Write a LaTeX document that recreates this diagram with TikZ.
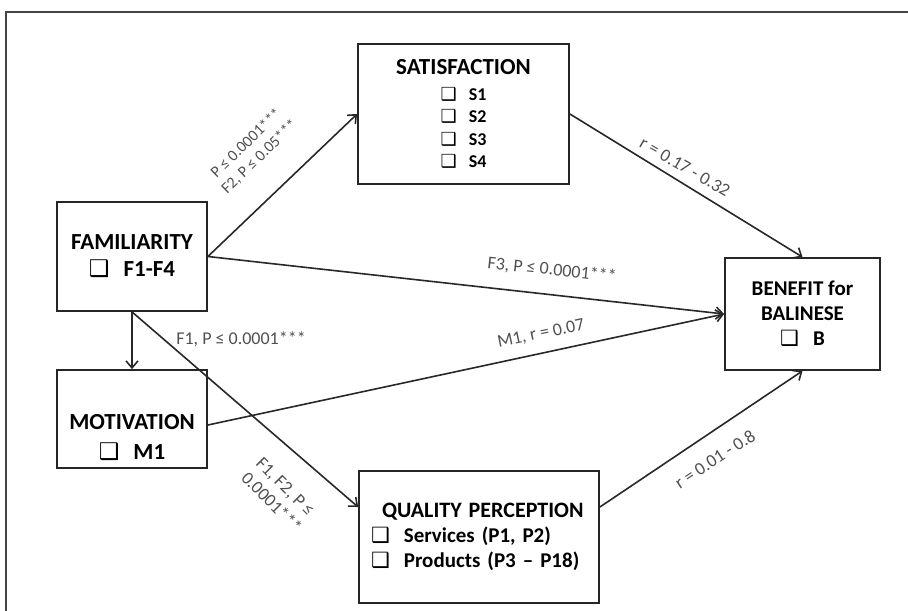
\documentclass[tikz,border=0pt]{standalone}
\usepackage{fontspec}
\setmainfont{Carlito}
\newfontfamily\dingfont{DejaVu Sans}
\definecolor{FrameGray}{RGB}{68,68,68}
\definecolor{LinkGray}{RGB}{40,40,40}
\definecolor{NoteGray}{RGB}{80,80,80}
\usetikzlibrary{
    arrows.meta,
    positioning,
}
\newcommand{\qbox}{{\dingfont\char"2751}}

\begin{document}
\begin{tikzpicture}[
    x=0.5pt, y=-0.5pt,
    box/.style={draw=black!85, line width=0.9pt, fill=white, align=center, inner sep=0pt},
    note/.style={text=NoteGray, inner sep=0pt, font=\fontsize{9}{10.5}\selectfont},
    link/.style={draw=LinkGray, line width=0.8pt, -{Straight Barb[length=3.5pt,width=6pt]}}
]
    \useasboundingbox (0,0) rectangle (908,610);
    \draw[FrameGray, line width=1.2pt] (6,640) -- (6,12) -- (940,12);

    \node[box, minimum width=105.5pt, minimum height=70pt, font=\bfseries\fontsize{9}{11.2}\selectfont] (sat) at (463.5,114)
        {{\fontsize{11.5}{13}\selectfont SATISFACTION}\\[1.5pt]
         \qbox\hspace{6pt}S1\\\qbox\hspace{6pt}S2\\\qbox\hspace{6pt}S3\\\qbox\hspace{6pt}S4};
    \node[box, minimum width=75pt, minimum height=54.5pt, font=\bfseries\fontsize{11.5}{13.5}\selectfont] (fam) at (132,256.5)
        {FAMILIARITY\\\qbox\hspace{7pt}F1-F4};
    \node[box, minimum width=75pt, minimum height=49pt, font=\bfseries\fontsize{11.5}{15}\selectfont] (mot) at (132,419)
        {\rule{0pt}{26pt}MOTIVATION\\\qbox\hspace{7pt}M1};
    \node[box, minimum width=120pt, minimum height=66pt, text width=108pt, align=left, font=\bfseries\fontsize{10.5}{12.5}\selectfont] (qual) at (479,537)
        {\hspace*{5.5pt}{\fontsize{11}{13}\selectfont QUALITY PERCEPTION}\\
         \qbox~ Services (P1, P2)\\\qbox~ Products (P3 -- P18)};
    \node[box, minimum width=77.5pt, minimum height=56pt, font=\bfseries\fontsize{10.5}{12.5}\selectfont] (ben) at (802.5,314)
        {BENEFIT for\\BALINESE\\\qbox\hspace{7pt}B};

    \draw[link] (fam.east) -- (sat.west);
    \draw[link] (fam.east) -- (ben.west);
    \draw[link] ([yshift=-3pt]mot.east) -- (ben.west);
    \draw[link] (fam.south) -- (mot.north);
    \draw[link] (fam.south) -- ([yshift=15pt]qual.west);
    \draw[link] ([yshift=15pt]qual.east) -- (ben.south);
    \draw[link] (sat.east) -- (ben.north);

    \node[note, rotate=44, align=center, font=\fontsize{8}{9.5}\selectfont] (lfs) at (253,150) {P ≤ 0.0001***\\F2, P ≤ 0.05***};
    \node[note, rotate=-6] (lfb) at (552,270) {F3, P ≤ 0.0001***};
    \node[note, rotate=12] (lmb) at (541,334) {M1, r = 0.07};
    \node[note] (lfm) at (241,339) {F1, P ≤ 0.0001***};
    \node[note, rotate=-45, align=left] (lfq) at (279,495) {F1, F2, P ≤\\0.0001***};
    \node[note, rotate=-30] (lsb) at (685,167) {r = 0.17 - 0.32};
    \node[note, rotate=33] (lqb) at (715,459) {r = 0.01 - 0.8};
\end{tikzpicture}
\end{document}
